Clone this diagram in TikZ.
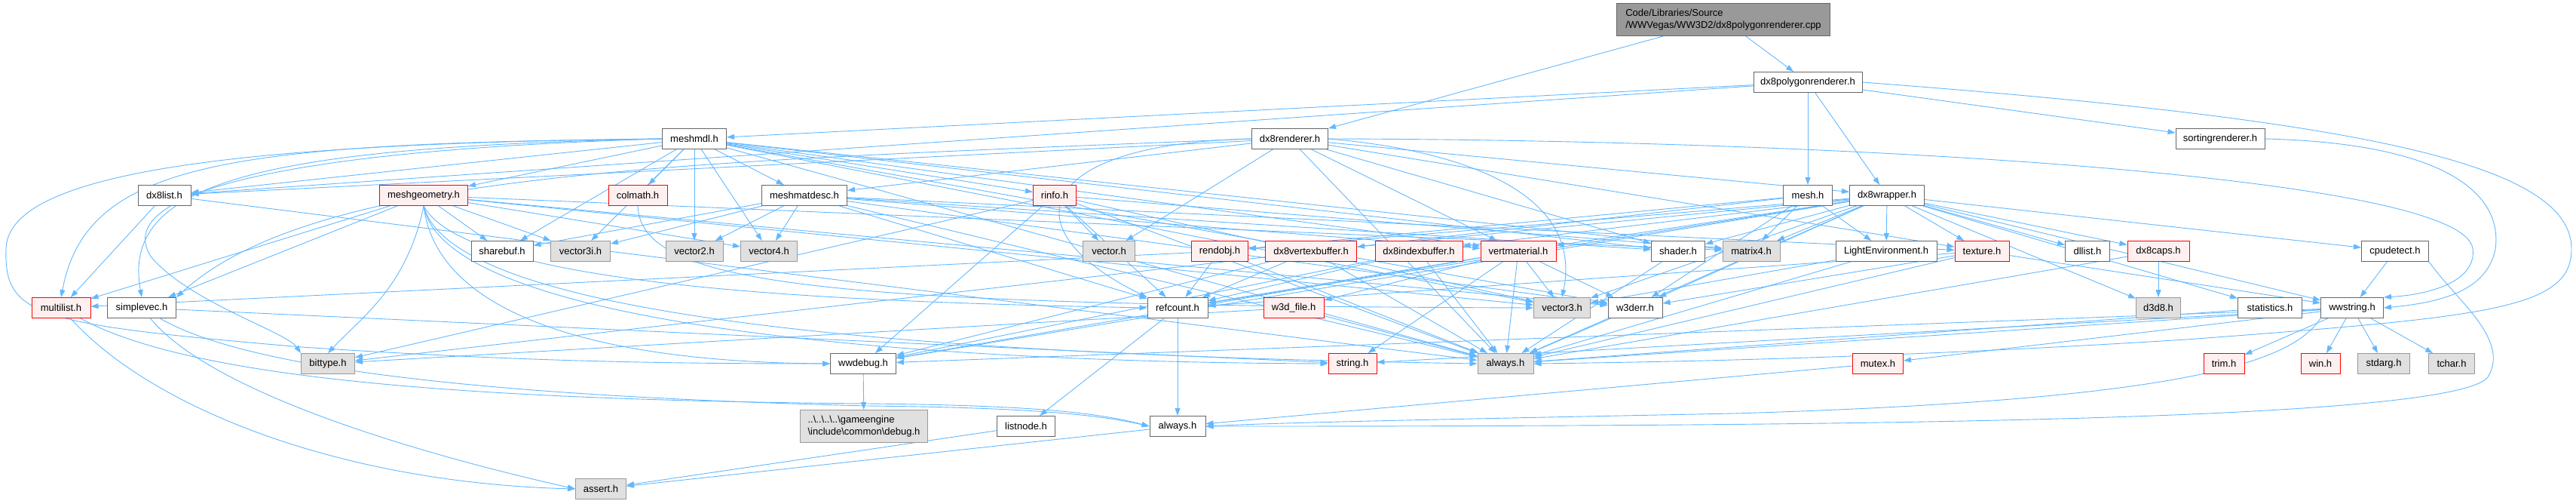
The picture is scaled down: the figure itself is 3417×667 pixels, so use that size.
\documentclass[tikz,border=0pt]{standalone}
\usepackage{fontspec}
\setmainfont{Liberation Sans}
\usetikzlibrary{arrows.meta,backgrounds}

\definecolor{edgeblue}{HTML}{63B8FF}
\definecolor{redfill}{HTML}{FFF0F0}
\definecolor{grayfill}{HTML}{E0E0E0}
\definecolor{graydraw}{HTML}{999999}
\definecolor{nodedraw}{HTML}{666666}
\definecolor{mainfill}{HTML}{999999}

\tikzset{
  hbox/.style={draw=nodedraw, fill=white, line width=1pt, minimum height=27pt,
    inner xsep=6pt, inner ysep=2pt, font=\fontsize{13}{16}\selectfont},
  redbox/.style={hbox, draw=red, fill=redfill},
  sysbox/.style={hbox, draw=graydraw, fill=grayfill},
  mainbox/.style={hbox, fill=mainfill, align=left, minimum height=43pt},
  incl/.style={draw=edgeblue, line width=0.9pt, -{Triangle[length=10pt,width=7pt]}},
}

\begin{document}
\begin{tikzpicture}[x=1pt, y=-1pt]
  \useasboundingbox (0,0) rectangle (3417,667);

  % rows of the include graph
  \node[mainbox, minimum width=283] (main) at (2286,26) {Code/Libraries/Source\\/WWVegas/WW3D2/dx8polygonrenderer.cpp};
  \node[hbox, minimum width=144] (dxpoly) at (2398,109) {dx8polygonrenderer.h};

  \node[hbox, minimum width=85] (meshmdl) at (921,184) {meshmdl.h};
  \node[hbox, minimum width=101] (dxrend) at (1711,184) {dx8renderer.h};
  \node[hbox, minimum width=118] (sortrend) at (2945,184) {sortingrenderer.h};

  \node[hbox, minimum width=70] (dxlist) at (218,259) {dx8list.h};
  \node[redbox, minimum width=117] (meshgeom) at (562,259) {meshgeometry.h};
  \node[redbox, minimum width=78] (colmath) at (846,259) {colmath.h};
  \node[hbox, minimum width=113] (matdesc) at (1067,259) {meshmatdesc.h};
  \node[redbox, minimum width=57] (rinfo) at (1399,259) {rinfo.h};
  \node[hbox, minimum width=65] (mesh) at (2398,259) {mesh.h};
  \node[hbox, minimum width=99] (dxwrap) at (2503,259) {dx8wrapper.h};

  \node[hbox, minimum width=82] (sharebuf) at (666,333) {sharebuf.h};
  \node[sysbox, minimum width=79] (vecthreei) at (770,333) {vector3i.h};
  \node[sysbox, minimum width=76] (vectwo) at (921,333) {vector2.h};
  \node[sysbox, minimum width=75] (vecfour) at (1020,333) {vector4.h};
  \node[sysbox, minimum width=69] (vector) at (1471,333) {vector.h};
  \node[redbox, minimum width=75] (rendobj) at (1618,333) {rendobj.h};
  \node[redbox, minimum width=121] (vbuf) at (1739,333) {dx8vertexbuffer.h};
  \node[redbox, minimum width=116] (ibuf) at (1882,333) {dx8indexbuffer.h};
  \node[redbox, minimum width=100] (vertmat) at (2014,333) {vertmaterial.h};
  \node[hbox, minimum width=71] (shader) at (2226,333) {shader.h};
  \node[sysbox, minimum width=76] (matfour) at (2323,333) {matrix4.h};
  \node[hbox, minimum width=134] (lightenv) at (2502,333) {LightEnvironment.h};
  \node[redbox, minimum width=72] (texture) at (2629,333) {texture.h};
  \node[hbox, minimum width=59] (dllist) at (2769,333) {dllist.h};
  \node[redbox, minimum width=82] (dxcaps) at (2863,333) {dx8caps.h};
  \node[hbox, minimum width=89] (cpudetect) at (3177,333) {cpudetect.h};

  \node[redbox, minimum width=78] (multilist) at (81,408) {multilist.h};
  \node[hbox, minimum width=91] (simplevec) at (188,408) {simplevec.h};
  \node[hbox, minimum width=80] (refcount) at (1562,408) {refcount.h};
  \node[redbox, minimum width=80] (wfile) at (1716,408) {w3d\_file.h};
  \node[sysbox, minimum width=75] (vecthree) at (2072,408) {vector3.h};
  \node[hbox, minimum width=72] (werr) at (2169,408) {w3derr.h};
  \node[sysbox, minimum width=59] (dthree) at (2863,408) {d3d8.h};
  \node[hbox, minimum width=85] (statistics) at (3011,408) {statistics.h};
  \node[hbox, minimum width=83] (wwstring) at (3120,408) {wwstring.h};

  \node[sysbox, minimum width=71] (bittype) at (435,482) {bittype.h};
  \node[hbox, minimum width=87] (wwdebug) at (1145,482) {wwdebug.h};
  \node[redbox, minimum width=64] (stringh) at (1794,482) {string.h};
  \node[sysbox, minimum width=74] (alwaysg) at (1997,482) {always.h};
  \node[redbox, minimum width=67] (mutex) at (2491,482) {mutex.h};
  \node[redbox, minimum width=54] (trim) at (2950,482) {trim.h};
  \node[redbox, minimum width=52] (win) at (3078,482) {win.h};
  \node[sysbox, minimum width=69] (stdarg) at (3162,482) {stdarg.h};
  \node[sysbox, minimum width=61] (tchar) at (3252,482) {tchar.h};

  \node[sysbox, minimum width=169, minimum height=43pt, align=left] (debugh) at (1146,565)
    {..\textbackslash..\textbackslash..\textbackslash..\textbackslash gameengine\\\textbackslash include\textbackslash common\textbackslash debug.h};
  \node[hbox, minimum width=77] (listnode) at (1361,565) {listnode.h};
  \node[hbox, minimum width=74] (alwaysw) at (1562,565) {always.h};

  \node[sysbox, minimum width=67] (assert) at (797,648) {assert.h};

  \begin{pgfonlayer}{background}
    % straight includes
    \foreach \t in {dxpoly,dxrend} \draw[incl] (main) -- (\t);
    \foreach \t in {meshmdl,dxlist,mesh,dxwrap,sortrend} \draw[incl] (dxpoly) -- (\t);
    \foreach \t in {meshgeom,colmath,matdesc,dxlist,sharebuf,vecthreei,vectwo,vecfour,rinfo,shader,vertmat,alwaysg,werr,vecthree,matfour}
      \draw[incl] (meshmdl) -- (\t);
    \foreach \t in {matdesc,vector,shader,dxlist,dxwrap,alwaysg,vertmat,texture} \draw[incl] (dxrend) -- (\t);
    \foreach \t in {sharebuf,vecthreei,vecfour,multilist,simplevec,vecthree,werr,matfour} \draw[incl] (meshgeom) -- (\t);
    \foreach \t in {sharebuf,vecthreei,vectwo,vecfour,shader,vertmat,texture,refcount,alwaysg,werr}
      \draw[incl] (matdesc) -- (\t);
    \foreach \t in {multilist,alwaysg} \draw[incl] (dxlist) -- (\t);
    \foreach \t in {vector,wwdebug,bittype,refcount,matfour,vecthree,alwaysg} \draw[incl] (rinfo) -- (\t);
    \foreach \t in {refcount,alwaysg,multilist} \draw[incl] (rendobj) -- (\t);
    \foreach \t in {refcount,alwaysg,wwdebug} \draw[incl] (vbuf) -- (\t);
    \foreach \t in {refcount,alwaysg,wwdebug} \draw[incl] (ibuf) -- (\t);
    \foreach \t in {refcount,wfile,stringh,alwaysg,vecthree,werr,wwdebug} \draw[incl] (vertmat) -- (\t);
    \foreach \t in {shader,matfour,lightenv,texture,dllist,dxcaps,cpudetect,statistics,wwstring,dthree,rendobj,vbuf,ibuf,vertmat,vecthree,werr,alwaysg,refcount,wwdebug}
      \draw[incl] (dxwrap) -- (\t);
    \foreach \t in {rendobj,lightenv,matfour,bittype,werr} \draw[incl] (mesh) -- (\t);
    \foreach \t in {vecthree,alwaysg} \draw[incl] (lightenv) -- (\t);
    \foreach \t in {wwstring,alwaysg,refcount,werr} \draw[incl] (texture) -- (\t);
    \foreach \t in {dthree,alwaysg} \draw[incl] (dxcaps) -- (\t);
    \foreach \t in {alwaysg,trim,win,stdarg,tchar,mutex,stringh,wwdebug} \draw[incl] (wwstring) -- (\t);
    \foreach \t in {alwaysg,bittype} \draw[incl] (wfile) -- (\t);
    \foreach \t in {listnode,alwaysw} \draw[incl] (refcount) -- (\t);
    \draw[incl] (shader) -- (alwaysg);
    \draw[incl] (cpudetect) -- (wwstring);
    \draw[incl] (statistics) -- (alwaysg);
    \draw[incl] (werr) -- (alwaysg);
    \draw[incl] (wwdebug) -- (debugh);
    \draw[incl] (listnode) -- (assert);
    \draw[incl] (alwaysw) -- (assert);
    \draw[incl] (simplevec) -- (stringh);
    \draw[incl] (mutex) -- (alwaysw);

    % long curved includes
    \draw[incl] (dxpoly.east) .. controls (3150,160) and (3411,220) .. (3411,330)
      .. controls (3411,410) and (3300,420) .. (2900,450) .. controls (2500,475) and (2200,480) .. (alwaysg.east);
    \draw[incl] (sortrend.east) .. controls (3250,190) and (3320,260) .. (3310,330)
      .. controls (3300,380) and (3250,400) .. (wwstring.east);
    \draw[incl] (dxrend.east) .. controls (2400,185) and (3270,230) .. (3280,330)
      .. controls (3285,370) and (3230,390) .. (wwstring.north east);
    \draw[incl] (cpudetect.south east) .. controls (3260,400) and (3330,450) .. (3300,500)
      .. controls (3250,560) and (2400,565) .. (alwaysw.east);
    \draw[incl] (wwstring.south west) .. controls (3040,480) and (2900,530) .. (2300,548)
      .. controls (1900,556) and (1700,560) .. (alwaysw.east);
    \draw[incl] (multilist) .. controls (250,500) and (600,530) .. (1150,535)
      .. controls (1350,537) and (1450,545) .. (alwaysw.west);
    \draw[incl] (simplevec) .. controls (330,490) and (650,525) .. (1150,538)
      .. controls (1350,540) and (1450,548) .. (alwaysw.west);
    \draw[incl] (multilist) .. controls (200,540) and (450,640) .. (assert.west);
    \draw[incl] (simplevec) .. controls (280,520) and (550,600) .. (assert.west);
    \draw[incl] (meshmdl.west) .. controls (300,190) and (10,230) .. (8,330)
      .. controls (5,420) and (50,430) .. (400,460) .. controls (700,480) and (900,482) .. (wwdebug.west);
    \draw[incl] (meshmdl.west) .. controls (300,190) and (115,215) .. (multilist.north);
    \draw[incl] (meshmdl.west) .. controls (350,195) and (160,240) .. (simplevec.north);
    \draw[incl] (meshmdl.west) .. controls (350,200) and (150,260) .. (200,340)
      .. controls (250,400) and (380,440) .. (bittype.north west);
    \draw[incl] (dxrend.west) .. controls (900,215) and (420,225) .. (simplevec.north east);
    \draw[incl] (dxrend.west) .. controls (1380,190) and (1330,300) .. (refcount.north west);
    \draw[incl] (dxrend.east) .. controls (1950,200) and (2100,260) .. (vecthree.north);
    \draw[incl] (colmath.south) .. controls (850,380) and (1100,405) .. (vecthree.west);
    \draw[incl] (meshgeom.south) .. controls (540,380) and (480,420) .. (bittype.north);
    \draw[incl] (meshgeom.south) .. controls (580,420) and (800,480) .. (wwdebug.west);
    \draw[incl] (meshgeom.south) .. controls (600,420) and (1200,470) .. (alwaysg.west);
    \draw[incl] (meshgeom.south) .. controls (620,380) and (1100,400) .. (refcount.west);
    \draw[incl] (meshgeom.south) .. controls (590,430) and (1200,480) .. (stringh.west);
  \end{pgfonlayer}
\end{tikzpicture}
\end{document}
